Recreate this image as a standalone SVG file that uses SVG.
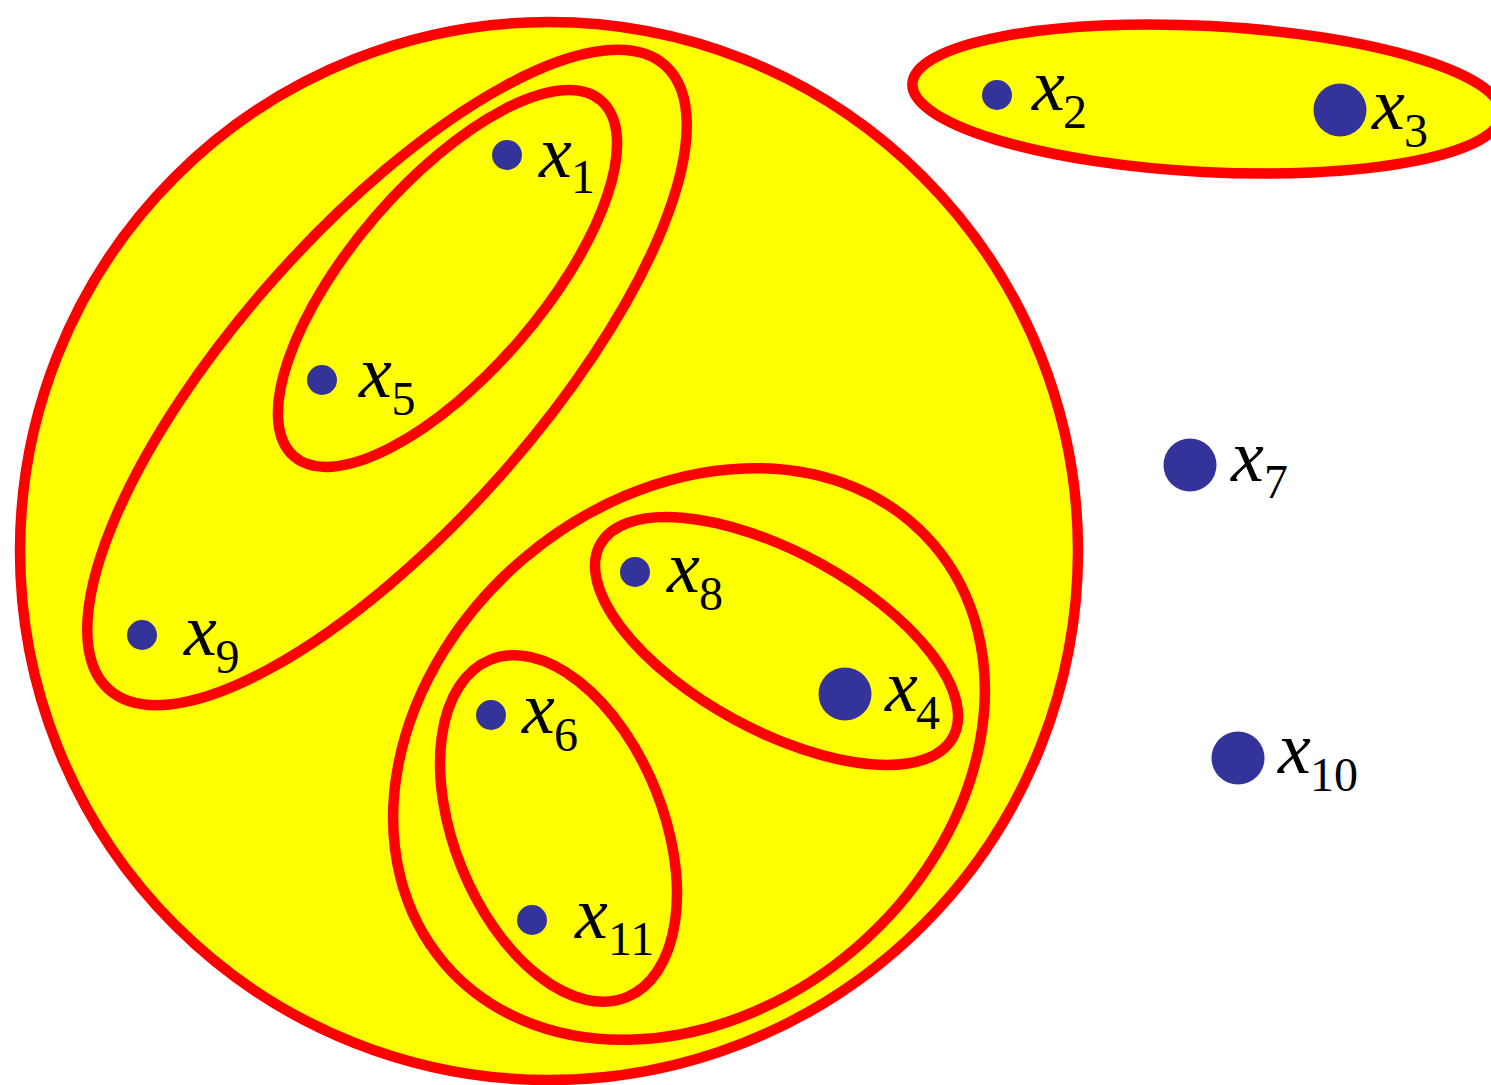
<svg xmlns="http://www.w3.org/2000/svg" width="1491" height="1085" viewBox="0 0 1491 1085">
<style>
.set{fill:#FFFF00;stroke:#FF0000;stroke-width:10.5}
.pt{fill:#333399}
.v{font-family:"Liberation Serif","Times New Roman",serif;font-style:italic;font-size:74px;fill:#000}
.s{font-family:"Liberation Serif","Times New Roman",serif;font-size:48px;fill:#000}
</style>
<rect width="1491" height="1085" fill="#FFFFFF"/>
<g id="sets">
<g id="set-outer"><ellipse class="set" cx="549" cy="551" rx="529" ry="529"/></g>
<g id="set-x2-x3"><ellipse class="set" cx="1207" cy="99" rx="295" ry="73" transform="rotate(3 1207 99)"/></g>
<g id="set-x1-x5-x9"><ellipse class="set" cx="387" cy="377.5" rx="418" ry="150" transform="rotate(-48.3 387 377.5)"/></g>
<g id="set-x1-x5"><ellipse class="set" cx="447.5" cy="278.5" rx="235" ry="95" transform="rotate(-49.2 447.5 278.5)"/></g>
<g id="set-x4-x6-x8-x11"><ellipse class="set" cx="689" cy="754" rx="322" ry="256" transform="rotate(-40.6 689 754)"/></g>
<g id="set-x8-x4"><ellipse class="set" cx="776.5" cy="641" rx="201" ry="89" transform="rotate(28.6 776.5 641)"/></g>
<g id="set-x6-x11"><ellipse class="set" cx="558.5" cy="828.5" rx="182" ry="104.5" transform="rotate(68 558.5 828.5)"/></g>
</g>
<g id="x1"><circle class="pt" cx="507" cy="155" r="15"/><text class="v" x="539" y="177">x</text><text class="s" x="571" y="193">1</text></g>
<g id="x2"><circle class="pt" cx="997" cy="95" r="15"/><text class="v" x="1032" y="110">x</text><text class="s" x="1063" y="128">2</text></g>
<g id="x3"><circle class="pt" cx="1340" cy="110" r="26.5"/><text class="v" x="1372" y="129">x</text><text class="s" x="1404" y="147">3</text></g>
<g id="x4"><circle class="pt" cx="845" cy="694" r="26.5"/><text class="v" x="885" y="711">x</text><text class="s" x="916" y="729">4</text></g>
<g id="x5"><circle class="pt" cx="322" cy="380" r="15"/><text class="v" x="359" y="397">x</text><text class="s" x="391.5" y="415">5</text></g>
<g id="x6"><circle class="pt" cx="491" cy="715" r="15"/><text class="v" x="522" y="733">x</text><text class="s" x="554" y="751">6</text></g>
<g id="x7"><circle class="pt" cx="1190" cy="465" r="26.5"/><text class="v" x="1231" y="481">x</text><text class="s" x="1264" y="498">7</text></g>
<g id="x8"><circle class="pt" cx="635" cy="572" r="15"/><text class="v" x="667" y="592">x</text><text class="s" x="699" y="610">8</text></g>
<g id="x9"><circle class="pt" cx="142" cy="635" r="15"/><text class="v" x="184" y="655">x</text><text class="s" x="215.5" y="673">9</text></g>
<g id="x10"><circle class="pt" cx="1238" cy="758" r="26.5"/><text class="v" x="1278" y="773">x</text><text class="s" x="1310" y="791">10</text></g>
<g id="x11"><circle class="pt" cx="532" cy="920" r="15"/><text class="v" x="575" y="938">x</text><text class="s" x="608" y="955">11</text></g>
</svg>
